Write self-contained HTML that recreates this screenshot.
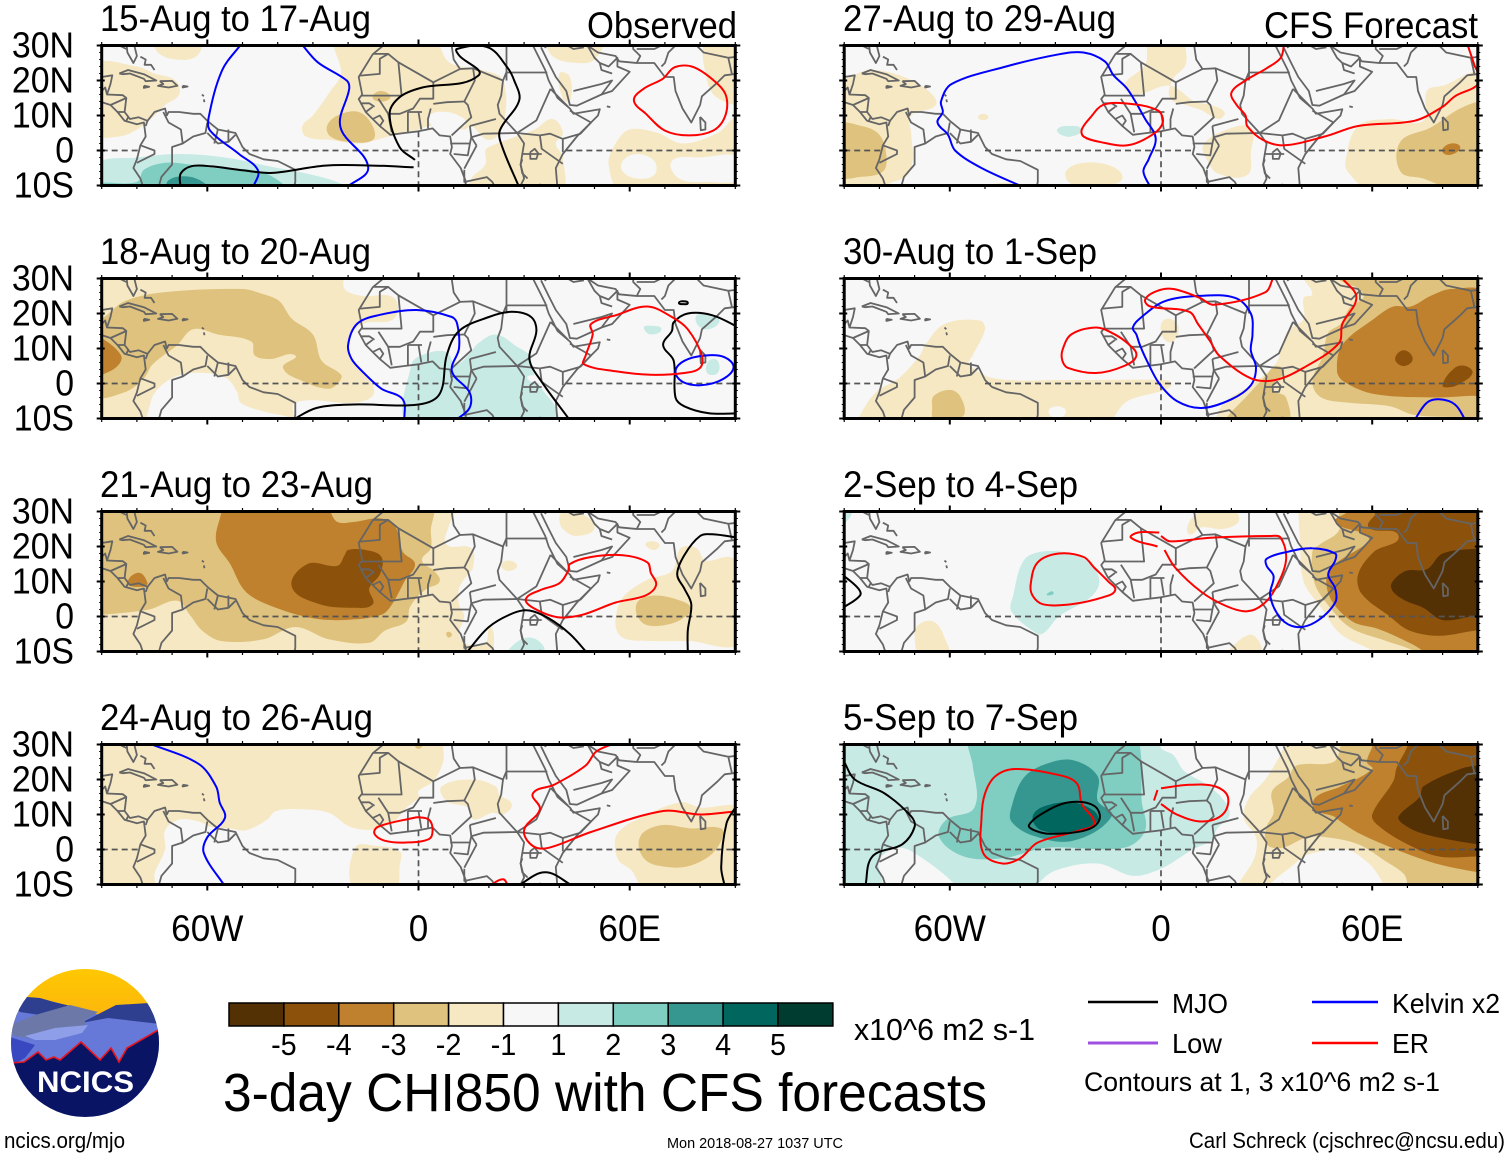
<!DOCTYPE html>
<html lang="en">
<head>
<meta charset="utf-8">
<title>3-day CHI850 with CFS forecasts</title>
<style>
html,body{margin:0;padding:0;background:#fff;}
svg{display:block;font-family:"Liberation Sans",sans-serif;}
</style>
</head>
<body>
<svg id="chart" xmlns="http://www.w3.org/2000/svg" width="1510" height="1158" viewBox="0 0 1510 1158">
  <g id="panels"></g>

  <g font-size="37" fill="#000">
    <text x="100" y="31" textLength="271" lengthAdjust="spacingAndGlyphs">15-Aug to 17-Aug</text>
    <text x="100" y="264" textLength="271" lengthAdjust="spacingAndGlyphs">18-Aug to 20-Aug</text>
    <text x="100" y="497" textLength="273" lengthAdjust="spacingAndGlyphs">21-Aug to 23-Aug</text>
    <text x="100" y="730" textLength="273" lengthAdjust="spacingAndGlyphs">24-Aug to 26-Aug</text>
    <text x="843" y="31" textLength="273" lengthAdjust="spacingAndGlyphs">27-Aug to 29-Aug</text>
    <text x="843" y="264" textLength="254" lengthAdjust="spacingAndGlyphs">30-Aug to 1-Sep</text>
    <text x="843" y="497" textLength="235" lengthAdjust="spacingAndGlyphs">2-Sep to 4-Sep</text>
    <text x="843" y="730" textLength="235" lengthAdjust="spacingAndGlyphs">5-Sep to 7-Sep</text>
    <text x="587" y="38" textLength="150" lengthAdjust="spacingAndGlyphs">Observed</text>
    <text x="1264" y="38" textLength="214" lengthAdjust="spacingAndGlyphs">CFS Forecast</text>
  </g>

  <g id="colorbar"></g>
  <text x="854" y="1040" font-size="31" textLength="181" lengthAdjust="spacingAndGlyphs">x10^6 m2 s-1</text>
  <text x="223" y="1111" font-size="54" textLength="764" lengthAdjust="spacingAndGlyphs">3-day CHI850 with CFS forecasts</text>

  <g>
    <line x1="1088" x2="1158" y1="1002" y2="1002" stroke="#000" stroke-width="2.4"/>
    <text x="1172" y="1013" font-size="28" textLength="56" lengthAdjust="spacingAndGlyphs">MJO</text>
    <line x1="1312" x2="1378" y1="1002" y2="1002" stroke="#0000ff" stroke-width="2.4"/>
    <text x="1392" y="1013" font-size="28" textLength="108" lengthAdjust="spacingAndGlyphs">Kelvin x2</text>
    <line x1="1088" x2="1158" y1="1043" y2="1043" stroke="#a050e0" stroke-width="3"/>
    <text x="1172" y="1053" font-size="28" textLength="50" lengthAdjust="spacingAndGlyphs">Low</text>
    <line x1="1312" x2="1378" y1="1043" y2="1043" stroke="#ff0000" stroke-width="2.4"/>
    <text x="1392" y="1053" font-size="28" textLength="37" lengthAdjust="spacingAndGlyphs">ER</text>
    <text x="1084" y="1091" font-size="27" textLength="356" lengthAdjust="spacingAndGlyphs">Contours at 1, 3 x10^6 m2 s-1</text>
  </g>

  <g>
    <defs>
      <clipPath id="logoClip"><circle cx="85" cy="1043" r="74"/></clipPath>
      <linearGradient id="sunGrad" x1="0" y1="0" x2="0" y2="1"><stop offset="0" stop-color="#ffc800"/><stop offset="0.6" stop-color="#fdb90c"/><stop offset="1" stop-color="#e89a10"/></linearGradient>
    </defs>
    <g clip-path="url(#logoClip)">
      <rect x="10" y="968" width="150" height="70" fill="url(#sunGrad)"/>
      <polygon points="10,1000 27,997 54,1002 100,1015 149,1003 160,1005 160,1065 10,1065" fill="#6678d8"/>
      <polygon points="10,1003 27,997 40,998 54,1002 75,1007 60,1013 40,1015 20,1012" fill="#2e3f90"/>
      <polygon points="81,1023 116,1005 149,1003 160,1005 160,1024 108,1018" fill="#2e3f90"/>
      <polygon points="10,1025 35,1015 70,1005 98,1012 85,1020 85,1030 40,1040 10,1035" fill="#6b78a8"/>
      <polygon points="25,1036 55,1028 88,1025 82,1033 55,1040 35,1040" fill="#8f9ee8"/>
      <polygon points="10,1037 35,1045 25,1058 14,1064 10,1064" fill="#3848c0"/>
      <polygon points="10,1063 24,1062 38,1052 46,1060 54,1057 60,1060 81,1042 100,1060 111,1048 119,1062 127,1048 160,1029 160,1120 10,1120" fill="#0a1464"/>
      <polyline points="10,1063 24,1062 38,1052 46,1060 54,1057 60,1060 81,1042 100,1060 111,1048 119,1062 127,1048 160,1029" fill="none" stroke="#e8141e" stroke-width="1.6"/>
    </g>
    <text x="37" y="1092" font-size="30" font-weight="bold" fill="#fff" textLength="97" lengthAdjust="spacingAndGlyphs">NCICS</text>
  </g>

  <text x="4" y="1148" font-size="22" textLength="121" lengthAdjust="spacingAndGlyphs">ncics.org/mjo</text>
  <text x="667" y="1148" font-size="15" textLength="176" lengthAdjust="spacingAndGlyphs">Mon 2018-08-27 1037 UTC</text>
  <text x="1189" y="1148" font-size="22" textLength="316" lengthAdjust="spacingAndGlyphs">Carl Schreck (cjschrec@ncsu.edu)</text>
</svg>

<script>
/* ---------- axis data ---------- */
const latTickLabels = ['30N','20N','10N','0','10S'];
const latTickValues = [30,20,10,0,-10];
const lonTickLabels = ['60W','0','60E'];
const lonTickValues = [-60,0,60];

/* ---------- colour scale ---------- */
const binKeys   = [-5.5,-4.5,-3.5,-2.5,-1.5,0,1.5,2.5,3.5,4.5,5.5];
const binColors = ['#543005','#8c510a','#bf812d','#dfc27d','#f6e8c3','#f7f7f7','#c7eae5','#80cdc1','#35978f','#01665e','#003c30'];
const colorbarLabels = ['-5','-4','-3','-2','-1','1','2','3','4','5'];

/* ---------- base map (lon, lat) ---------- */
const coastLines = [
 [[-92,18.5],[-90,21],[-87,21.5],[-87.5,19],[-88.5,16],[-84,15.8],[-83,15],[-83.5,11],[-82,9],[-79.5,9.5],[-77,8.5],[-75,11],[-72,12],[-71.5,10],[-71,11],[-68,11],[-64,10.5],[-62,10.5],[-60,8.5],[-57,6],[-52,5],[-50,1],[-48,-1],[-44,-2.5],[-40,-3],[-35,-5.5],[-35,-9],[-35.5,-11]],
 [[-92,14.5],[-87.5,13],[-85.5,11],[-83.5,8.5],[-80,7.5],[-78,8],[-77.5,4],[-79,1.5],[-80,-2.5],[-81,-5],[-79,-8],[-78,-11]],
 [[-85,22],[-82.5,23],[-78,21.8],[-74.5,20],[-77.5,19.8],[-78,20.5],[-82,22],[-84,21.8],[-85,22]],
 [[-73.5,19.8],[-70,19.9],[-68.5,18.5],[-71,18],[-74,18.5],[-72.5,19],[-73.5,19.8]],
 [[-78,18.5],[-76.5,18.2],[-78,17.9],[-78,18.5]],
 [[-67,18.5],[-65.6,18.3],[-67,18],[-67,18.5]],
 [[-79,26.8],[-77.5,26],[-77.8,24.5],[-76,24.5],[-75,23]],
 [[-61.5,16],[-61,15.5]],[[-61,14.6],[-60.8,13.8]],
 [[-83,31],[-82.7,28],[-81,25],[-80,27],[-81,31]],
 [[-92,30],[-85,30],[-83,29]],
 [[-9.5,31],[-10,30],[-13,27.5],[-17,21],[-16,16],[-17,14.7],[-15,11],[-13,9],[-11,7],[-8,4.5],[-4,5],[0,5.5],[4,6.3],[6,4.3],[9,4],[9.5,1],[9,-1],[12,-5],[13.5,-9],[13,-11]],
 [[32.5,31],[32.5,30],[34,27],[36,23],[37,20],[38,18],[39.5,15],[43,12],[44,10.5],[51.5,11.8],[51,10],[49,8],[45,4],[41,-1],[39,-5],[39.5,-11]],
 [[34.8,29.5],[37,25],[39,21],[42,17],[43,13],[45,12.8],[52,16],[55,17],[60,22.5],[56.5,24],[56.5,26.5],[54,24],[51.5,25],[50,26.5],[48,30],[51,28],[56,27],[57,25.5],[62,25],[67,25],[70,21],[72.5,21],[73,17],[75,12],[77.5,8],[80,13],[80.5,15.5],[85,19.5],[87,21.5],[91,22]],
 [[80,9.6],[81.5,8],[81.5,6],[80.2,5.8],[80,9.6]],
 [[53.5,12.6],[54.5,12.4]],
 [[31.7,-0.5],[33,0.5],[34,-0.8],[33.5,-2.4],[31.8,-2.4],[31.7,-0.5]],
 [[29.5,-2.5],[29,-4],[29.5,-6.5],[31,-8]],
 [[34.5,-9.5],[34.5,-11]]
];
const borderLines = [
 [[-16.6,21.4],[-11,21.9],[-11,26.2],[-8.6,27.6],[-13,27.6]],
 [[-8.6,27.6],[-5.7,25.2],[-4.8,15.7],[-16.1,15.7]],
 [[-5.7,25.2],[4.2,19.5],[11.8,23.3],[15.5,23.5],[24,20],[25,22.4]],
 [[9.5,31],[9.5,29.5],[10,26],[11.8,23.3]],
 [[25,31],[25,20]],
 [[25,22.3],[36.6,22.3]],
 [[15.5,23.5],[16,20],[13,14],[14,13],[15,9.5],[9.4,4.3]],
 [[24,20],[23.5,15.7],[22.5,13],[23,10.5],[28,5],[33.5,8.6],[37.5,17.6]],
 [[4.2,19.5],[4.2,14.8],[0.4,14.8],[-1.5,12],[-5.3,10.5],[-8.6,10.5],[-11.4,14.8]],
 [[-8.6,10.5],[-7.6,5.2]],
 [[4.2,13.3],[8,13.8],[13,14]],
 [[3.5,12],[2.7,9],[2.7,6.3]],[[-3,11],[-3,5]],[[0,11],[0.8,6]],[[-3,11],[1,11]],
 [[-15,11],[-13,12.5]],[[-16.5,13.5],[-14,13.5],[-12.5,12.5]],[[-13,9],[-11,10],[-10,8.5],[-11,7]],
 [[14.6,7],[22,9]],
 [[14.6,7],[15,3.8],[18.4,4.8],[28,5],[34.5,4.3]],
 [[9,2],[14.6,2],[15,3.8]],[[14.6,2],[14,-1.4],[10,-1]],
 [[16.5,1.4],[13,-5.2]],[[15,3.8],[16.5,1.4]],
 [[13,-5.5],[13,-9],[19.4,-7.6],[21,-9],[22,-11]],
 [[28,5],[30,2],[29.5,-1],[29,-4],[30,-8],[29,-10],[25,-11]],
 [[34.5,4.3],[35,0.5],[41,-3.8]],
 [[34.5,4.3],[37.4,4.8],[41,3.3],[41,-0.5]],
 [[41,3.3],[46,4.8],[49,8],[43,11.4]],
 [[37.5,17.6],[42.5,12.5]],
 [[29.5,-1],[35,-1]],
 [[39,32],[36,29.5],[39,32],[44,29],[47,29.5]],
 [[44,17],[46,17.5],[52,19],[55,20],[52,16]],
 [[55,22],[52,23],[51.5,25]],
 [[61,31],[61,29],[63,27],[62,25]],
 [[71,31],[67,29],[62,29]],
 [[74,31],[71,28],[70,25],[69,24]],
 [[78,31],[81,28],[88,26.5],[89,22]],
 [[88,26.5],[92,27]],
 [[-72.5,11],[-71,8],[-67.5,6],[-67,2],[-70,1],[-70,-4],[-73,-7.5],[-74,-11]],
 [[-79,1.5],[-75,0],[-75,-1],[-80,-3.5]],
 [[-67,2],[-64,4],[-60.5,5],[-60,8]],
 [[-60,5],[-57,2],[-54,2.5],[-52,4.5]],[[-57,6],[-58,2]],[[-54,6],[-54,2.5]],
 [[-92,17],[-90,17],[-89,18],[-88.5,16]],[[-87.5,13],[-83,15]],[[-85.5,11],[-83.5,11]],[[-83,8.5],[-82.5,9.5]],[[-77.5,7],[-77,8.5]],
 [[-70,-11],[-65,-10]]
];

/* ---------- panel 1: 15-Aug to 17-Aug ---------- */
const fills1 = [
 [-1.5,[[-92,24],[-80,24],[-75,22],[-69,20],[-68,16],[-72,13],[-76,9],[-80,6],[-85,4],[-92,5]]],
 [-1.5,[[-75,32],[-74,28],[-69,26],[-63,27],[-62,32]]],
 [-1.5,[[-23,32],[-22,22],[-25,17],[-30,10],[-33,7],[-32,4],[-25,3],[-17,2],[-12,3],[-5,5],[0,6],[3,7],[8,7],[13,6],[15,7],[20,3],[24,7],[24,20],[18,23],[9,25],[6,30],[6,32]]],
 [0,[[3,10],[8,11],[13,9],[13,7],[8,6],[4,7]]],
 [-1.5,[[19,0],[20,1],[25,3],[33,6],[38,9],[41,5],[39,2],[41,-2],[40,-12],[15,-12],[15,-8],[19,-4]]],
 [-1.5,[[37,32],[38,27],[45,25],[50,26],[52,32]]],
 [-1.5,[[40,22],[43,21],[43,14],[41,15]]],
 [-1.5,[[82,32],[82,20],[85,15],[92,14],[92,32]]],
 [-1.5,[[60,6],[68,5],[75,2],[85,5],[92,10],[92,-12],[58,-12],[54,-4],[56,2]]],
 [0,[[58,-3],[62,-1],[67,-3],[67,-7],[62,-8],[58,-6]]],
 [0,[[72,-3],[80,-2],[92,-2],[92,-8],[82,-9],[74,-8]]],
 [-2.5,[[-26,7],[-23,10],[-17,11],[-13,7],[-13,3],[-20,2.5],[-25,4]]],
 [-2.5,[[-13,15],[-11,17],[-8,15.5],[-10,14]]],
 [1.5,[[-92,-4],[-80,-2],[-68,-1],[-55,-2],[-40,-5],[-30,-7],[-21,-10],[-21,-12],[-92,-12]]],
 [2.5,[[-92,-9.5],[-80,-9],[-78,-5.5],[-72,-3.5],[-65,-4],[-58,-5],[-45,-6],[-38,-10],[-38,-12],[-92,-12]]],
 [3.5,[[-71,-12],[-71,-8.5],[-65,-7.5],[-60,-10],[-60,-12]]]
];
const lines1 = [
 ['kelvin',0,[[-50.3,30.5],[-55.8,22.9],[-59.6,9.5],[-59.2,5.7],[-51,-1],[-45.6,-5.7],[-47,-10.5]]],
 ['kelvin',0,[[-33.3,30.5],[-28.6,25.2],[-20.4,20],[-19.7,17.6],[-22.2,6.7],[-14.3,-4.8],[-20.4,-10.5]]],
 ['mjo',0,[[-67.6,-10.5],[-67.6,-6.7],[-64.6,-4.5],[-59.2,-4.5],[-49.7,-5.7],[-41.5,-6.4],[-26.5,-4.3],[-12.9,-4.3],[-1.4,-4.8]]],
 ['mjo',0,[[-1,-2.7],[-5.4,1],[-8.2,10.5],[-5.4,15.2],[0.7,17.9],[17,21.4],[11.6,27.1],[10.9,29],[19.7,29.5],[25.2,23.8],[27.2,20],[28.6,14.3],[23.1,5.7],[23.8,1],[28.6,-10.5]]],
 ['er',1,[[72.8,23.8],[78.2,23.8],[85,19],[87.5,15.2],[87,9.5],[83.7,5.7],[76.9,4.3],[70,5.7],[64.6,10.5],[61.2,14.3],[63.9,17.6],[69.4,20.5]]]
];

/* ---------- panel 2: 18-Aug to 20-Aug ---------- */
const fills2 = [
 [-1.5,[[-92,32],[-22,32],[-21,27],[-16,25],[-7,24.5],[-7,18.5],[-16,17],[-20,12],[-18.5,6.5],[-13.5,0.5],[-13,-3.5],[-18.5,-5.5],[-35,-5.5],[-36,-12],[-92,-12]]],
 [0,[[-76,-12],[-76,-5],[-73,-0.5],[-67.5,2.5],[-60.5,3],[-54.5,1.5],[-51.5,-2.5],[-50.5,-5.5],[-44,-8],[-36,-10],[-36,-12]]],
 [-2.5,[[-92,18.5],[-90,18.5],[-83.5,23.5],[-73,26],[-50,27],[-44,25.5],[-39.5,23.5],[-36,18.5],[-30,14],[-27.5,6.5],[-22,2.5],[-22.5,0.5],[-25.5,-1.5],[-32.5,0.5],[-38.5,4.5],[-35,8],[-42,7],[-46.5,8],[-47.5,12],[-57,14],[-64,15.5],[-68.5,11],[-75.5,5.5],[-78,1.5],[-83.5,-2.5],[-92,-3]]],
 [-3.5,[[-92,13],[-90,13],[-84.5,8],[-85.5,5],[-90,2.5],[-92,2.5]]],
 [1.5,[[-2,-12],[-2,5.5],[2,8.5],[8,9],[10.5,5.5],[14,8],[17,11.5],[22,14],[28,10.5],[31.5,8],[32.5,3.5],[35,-1.5],[38.5,-6],[40,-10],[40,-12]]],
 [0,[[31,2],[34,2],[35,0.5],[32,0.5]]],
 [1.5,[[64,16],[66,16.5],[69,15.5],[66,14]]],
 [1.5,[[79,19.5],[82.5,19.5],[85.5,18],[82.5,15.5],[79.5,16.5]]],
 [1.5,[[82.5,6.5],[85,6.5],[85,3],[82,3]]]
];
const lines2 = [
 ['kelvin',0,[[-4,-10.5],[-4.5,-4.5],[-10.5,-1.5],[-16,3.5],[-19,7],[-20,11],[-17.5,17],[-11.5,19.5],[-0.5,21],[9.5,19],[11,17],[11.5,10],[9.5,3.5],[14.5,-2.5],[14.5,-7],[10.5,-10.5]]],
 ['mjo',0,[[-36,-10.5],[-29,-7],[-18.5,-6],[0,-6],[6,-3],[8,8],[11.5,15],[20,19],[26.5,20.5],[32,19],[33.5,15],[31.5,7],[35,0.5],[43,-10.5]]],
 ['mjo',0,[[91,16],[83.5,19.5],[76.5,20],[72.5,17.5],[72,15],[69.5,11],[72.5,6.5],[73,-4],[75.5,-6.5],[82.5,-8.5],[91,-8.5]]],
 ['mjo',1,[[74,23],[75,23.5],[76.5,23],[75,22.7]]],
 ['kelvin',1,[[73,3.5],[75.5,6.5],[81.5,8],[87,7.5],[89.5,4.5],[86,1],[80,-0.5],[75,0.5]]],
 ['er',1,[[49,17],[56,19.5],[65,22],[72,19],[76.5,15.5],[80.5,8],[80,4.5],[75.5,3],[66,2.5],[56,3.5],[47,5.5],[47.5,8],[49.5,14]]]
];

/* ---------- panel 3: 21-Aug to 23-Aug ---------- */
const fills3 = [
 [-1.5,[[-92,32],[10.5,32],[10.5,30],[8.5,25.5],[8,20.5],[15,19.5],[15.5,14],[14,12],[11.5,8],[11.5,3.5],[13,0],[11.5,-5],[14,-8],[19,-7.5],[20.5,-3],[21.5,-10],[22,-12],[-92,-12]]],
 [-1.5,[[40,28],[41,30],[45,30],[50,25.5],[45,23],[41,25]]],
 [-1.5,[[64.5,20.5],[66,21.5],[68.5,20.5],[67,19]]],
 [-1.5,[[56.5,-4.5],[56,-0.5],[58,5.5],[65,10.5],[72,13],[74.5,19.5],[79,19.5],[81.5,16],[88.5,17],[92,14],[92,-7],[76.5,-7],[66,-7],[59,-6.5]]],
 [-1.5,[[23.5,14.5],[25.5,16],[28,14.5],[25.5,13]]],
 [-2.5,[[-92,32],[3.5,32],[3.5,24.5],[3.5,19.5],[1,16],[4.5,13],[6,10],[2.5,8],[0,6],[-2.5,2.5],[-3.5,-1.5],[-9.5,-4],[-14,-7.5],[-25.5,-6.5],[-35,-3],[-44,-6.5],[-56,-7],[-61.5,-4],[-65,0.5],[-68.5,4.5],[-76.5,2],[-90,0.5],[-92,0.5]]],
 [-3.5,[[-56,32],[-56,30],[-57.5,21.5],[-53.5,15],[-49,7],[-40.5,2.5],[-30,-0.5],[-21,-1],[-10.5,0.5],[-7.5,3.5],[-4,10],[-1,15],[-4.5,18.5],[-6.5,25.5],[-10.5,28],[-18.5,27],[-23,27],[-25,30],[-25,32]]],
 [-3.5,[[-82.5,9.5],[-79.5,12.5],[-77,9.5],[-78.5,8.5]]],
 [-4.5,[[-20,19],[-15,19],[-10.5,17],[-11,12],[-14,8],[-13,3.5],[-18.5,2.5],[-28,3.5],[-36,8.5],[-31.5,15],[-23,14.5],[-21,17.5]]],
 [-2.5,[[62,0.5],[62.5,4.5],[67.5,6],[74.5,4.5],[77.5,2.5],[76.5,0.5],[72,-2],[65,-2.5]]],
 [-2.5,[[8,-4.5],[9.5,-5],[8.5,-6]]],
 [1.5,[[25.5,-12],[26.5,-8.5],[31.5,-6],[35.5,-8.5],[35,-12]]]
];
const lines3 = [
 ['er',1,[[43,15],[49,17],[58,17.5],[65,15.5],[66,12.5],[67.5,9],[64.5,6],[56,4],[46.5,0.5],[39.5,-0.2],[32.5,2.5],[30.5,5],[34.5,7.5],[40,9.5],[42.5,13]]],
 ['mjo',0,[[13.5,-10.5],[20,-3],[27,1],[31.5,1.7],[37,-0.5],[43,-5],[48,-10.5]]],
 ['mjo',0,[[91,22.5],[83.5,23.5],[80,23],[75.5,17.5],[73.5,12],[75.5,8],[77.5,3.5],[76.5,-4],[76.5,-10.5]]]
];

/* ---------- panel 4: 24-Aug to 26-Aug ---------- */
const fills4 = [
 [-1.5,[[-92,32],[7,32],[7,29.5],[7,25],[4.2,19.5],[0,16.7],[0,14.8],[-3.4,12],[-7,8],[-12.8,5.7],[-19.5,6.5],[-25.5,10.5],[-33.5,11.5],[-40.5,11],[-43,8.5],[-49,5.5],[-53.5,6],[-59,6.5],[-62.5,8],[-68,8.5],[-72,5.5],[-72,0],[-75,-7],[-75,-12],[-92,-12]]],
 [-2.5,[[-1,30],[1,30],[0,28.7]]],
 [-1.5,[[6.6,18],[15.6,20],[22,18],[23,15.7],[26.5,12.9],[24,10],[21,10.5],[15.6,8.6],[14,12],[8,13.8]]],
 [-1.5,[[-18,0.5],[-12,1],[-5.3,-0.5],[-5.3,-4.3],[-7,-12],[-18,-12]]],
 [-1.5,[[56.5,-2.5],[56.5,4.5],[64,9.5],[74.5,13.5],[80,12],[92,11],[92,-12],[65,-12],[60.5,-6]]],
 [-2.5,[[62.5,1.5],[64,5],[69.5,7],[77.5,6],[86,6],[86,2.5],[82.5,-2],[75.5,-5],[67.5,-4.5],[64,-2.5]]]
];
const lines4 = [
 ['kelvin',0,[[-77,30.5],[-62.5,24.5],[-57.5,18],[-56.5,13.5],[-55,9],[-60,3.5],[-61,-1],[-55,-10.5]]],
 ['er',1,[[-1.5,9],[-11.5,6.5],[-12.5,4.5],[-9.5,2.5],[-3.5,2],[3,3],[4,5.5],[3,8.5],[0,9.2]]],
 ['er',0,[[56,30.5],[50.5,28],[47.5,24],[38.5,18.5],[32.5,16],[34.5,11.5],[30,5.5],[32.5,1],[37,0.5],[49,5],[69.5,11],[80,10],[91,11]]],
 ['er',0,[[20,-10.5],[24,-8.5],[25.5,-10.5]]],
 ['er',0,[[61.5,30.2],[68,30.2]]],
 ['mjo',0,[[28,-10.5],[36,-6.5],[44,-10.5]]],
 ['mjo',0,[[90,12],[87.5,7.5],[86,-5],[87,-10.5]]]
];

/* ---------- panel 5: 27-Aug to 29-Aug ---------- */
const fills5 = [
 [-1.5,[[-92,20.5],[-90,20.5],[-82.5,23],[-73,21],[-66,17],[-64,13],[-71,10],[-71,5],[-70.5,-2],[-72,-7],[-78,-10],[-78,-12],[-92,-12]]],
 [-1.5,[[-4,32],[-4,30],[-4.5,24.5],[-10.5,18.5],[-7,16],[2.5,18.5],[9.5,14],[14,13],[18,11],[16.5,9],[11.5,11.5],[7,13],[2.5,15],[3.5,20.5],[7,24.5],[7,30],[7,32]]],
 [-1.5,[[12,1.5],[17.5,5.5],[25.5,6.5],[25.5,-0.5],[24.5,-7],[16,-6.5],[13,-2.5]]],
 [-1.5,[[-27,-6],[-22,-3.5],[-14,-4.5],[-11,-8],[-16,-10],[-25.5,-9.5]]],
 [-1.5,[[-52,9.5],[-50.5,10.5],[-49,9.5],[-50.5,8.7]]],
 [-1.5,[[-51,-12],[-47,-9.5],[-39,-10],[-39,-12]]],
 [-1.5,[[52.5,-2.5],[56,7],[65,9],[74.5,8.5],[75.5,17],[80,18.5],[92,21.5],[92,-12],[60.5,-12],[53,-6]]],
 [-2.5,[[-92,7],[-85,7],[-80,4.5],[-78,-1.5],[-79,-6],[-85,-7.5],[-92,-7]]],
 [-2.5,[[68,-6],[68,2.5],[76.5,6.5],[86,12.5],[92,13],[92,-12],[85,-12],[74.5,-8]]],
 [-3.5,[[80,0.5],[82.5,2],[85,1],[83,-1],[80.5,-1]]],
 [1.5,[[-29.5,6],[-27,7],[-22.5,6],[-25.5,4],[-28.5,4.5]]]
];
const lines5 = [
 ['kelvin',0,[[-39,-10.5],[-51,-5],[-58.5,0],[-60.5,4.5],[-63.5,8],[-62,11],[-62.5,14],[-59.5,19],[-44,24],[-29,27.5],[-22,28],[-16,25.5],[-13.5,21.5],[-9.5,17.5],[-4.5,9],[-1.5,3.5],[-3.5,-2.5],[-5,-6],[-3,-10.5]]],
 ['er',1,[[-22.5,6],[-20,9.5],[-16.5,13],[-10.5,13.5],[-1,11.5],[0.5,8],[-2.5,4.5],[-9.5,1.5],[-17.5,2.5],[-22,4]]],
 ['er',0,[[35,30.5],[34,26.5],[30,23.5],[24,20],[20,16.5],[21.5,13],[24,10],[24.5,7],[29,3],[35,1.5],[46.5,4],[56,7],[72,8.5],[80,12.5],[83.5,15.5],[90.5,19.5],[89,24.5],[87,30.5]]]
];

/* ---------- panel 6: 30-Aug to 1-Sep ---------- */
const fills6 = [
 [-1.5,[[-86,-12],[-86,-10],[-81,-2.5],[-74.5,1.5],[-68.5,8],[-67,11],[-61.5,17],[-51.5,18],[-50,15.5],[-53.5,8],[-54.5,5.5],[-47.5,1.5],[-28,1],[0,1],[3,0],[0.5,-2],[-9.5,-5],[-13.5,-10],[-13.5,-12]]],
 [0,[[-32,-8],[-29.5,-6.5],[-27,-8],[-29.5,-10]]],
 [-2.5,[[-65,-7],[-64.5,-3.5],[-59,-2],[-56,-6],[-56.5,-9.5],[-64.5,-10]]],
 [-1.5,[[0,17],[2.5,18.5],[5,16],[3.5,12],[1,12.5]]],
 [-1.5,[[16.5,-12],[17.5,-6],[25.5,-0.5],[32.5,5.5],[34.5,11],[36,15],[40.5,18.5],[40.5,24.5],[43,25.5],[40.5,30],[40.5,32],[92,32],[92,-12]]],
 [-2.5,[[18.5,-12],[18.5,-10],[24,-4],[30,2.5],[32.5,5],[35,3.5],[31.5,-1.5],[35.5,-4],[35.5,-12]]],
 [-2.5,[[50,32],[50,30],[57.5,25.5],[53.5,21.5],[51,17],[47.5,14.5],[46,8],[43,0.5],[45.5,-4],[53.5,-5.5],[65,-6.5],[72,-9],[88.5,-10],[92,-12],[92,32]]],
 [-3.5,[[50,3.5],[51.5,11],[60.5,18.5],[66,22],[71,22],[76.5,25],[82.5,27],[92,25.5],[92,-3.5],[88.5,-3.5],[78,-4],[60.5,-3],[52,0.5]]],
 [-4.5,[[66.5,7],[69,9.5],[71.5,7],[69,5]]],
 [-4.5,[[80,-0.5],[83.5,4.5],[86.5,5],[88.5,3],[85,0],[82.5,-1]]]
];
const lines6 = [
 ['kelvin',1,[[-8,16],[-5.5,19],[1,23.5],[10.5,25],[21,24.5],[25.5,20],[26,14],[25.5,9.5],[27,4.5],[25.5,-0.5],[20,-4.5],[11.5,-7],[4.5,-5],[-0.5,0],[-4,6.5],[-6,11],[-7,14]]],
 ['kelvin',0,[[72,-10.5],[75.5,-5.5],[79,-4.5],[83.5,-6],[86.5,-10.5]]],
 ['er',1,[[-28,9.5],[-25.5,14],[-18.5,16],[-14,14.5],[-9.5,11.5],[-7,8],[-10.5,5],[-18.5,3],[-26.5,4.5],[-28,6.5]]],
 ['er',0,[[32,30.5],[29.5,26],[15,22.5],[11,24.5],[3.5,27],[-1,26.5],[-4.5,24],[-3,22],[8,20.5],[10.5,17],[14,12],[16.5,8],[25.5,1.5],[32.5,1],[40.5,4.5],[50.5,11.5],[51.5,17],[55.5,24.5],[52,29.5],[50.5,30.5]]]
];

/* ---------- panel 7: 2-Sep to 4-Sep ---------- */
const fills7 = [
 [1.5,[[-35,-5],[-42.5,1.5],[-42,6],[-39,16],[-34,18.5],[-25.5,18],[-20,15],[-17.5,10],[-20,5.5],[-29,0],[-33,-4.5]]],
 [2.5,[[-32.5,6.3],[-31,7.2],[-30.5,6.5],[-32,6]]],
 [1.5,[[-92,32],[-88,30],[-89.5,27],[-92,26]]],
 [-1.5,[[-70,-5],[-68.5,-2],[-64.5,-1.5],[-61.5,-6],[-60.5,-12],[-68,-12]]],
 [-1.5,[[8,23.5],[8,27],[11.5,30],[21,30],[22,27],[17.5,25],[11.5,25.5]]],
 [-1.5,[[19,-12],[22,-7],[26.5,-5.5],[28,-12]]],
 [-1.5,[[39,32],[39,30],[39.5,21.5],[40.5,10],[45.5,2.5],[51,-5],[60.5,-10],[62,-12],[92,-12],[92,32]]],
 [-2.5,[[43,18.5],[45,20.5],[50.5,24.5],[50.5,30],[50.5,32],[92,32],[92,-12],[72,-12],[72,-10],[64,-7],[53.5,-3],[46.5,4.5],[43.5,10]]],
 [-3.5,[[53,32],[53,30],[49.5,27],[58,23.5],[59,21.5],[49.5,15],[47,11],[48.5,4.5],[54.5,-1.5],[61.5,-3.5],[69.5,-7],[74.5,-10],[75,-12],[92,-12],[92,32]]],
 [-4.5,[[61.5,32],[61.5,30],[59,25.5],[67.5,23],[60.5,18.5],[56,12],[57,6.5],[65,0],[70.5,-4],[79,-5.5],[89.5,-4],[92,-4],[92,32]]],
 [-5.5,[[65.5,9.5],[69.5,13],[75.5,13.5],[80,18],[90.5,19.5],[92,19.5],[92,0],[88.5,0],[80,-1],[74.5,2.5],[69.5,4.5],[66,7]]]
];
const lines7 = [
 ['er',1,[[-37,9.5],[-35,15.5],[-29,18],[-22,17],[-19,14],[-15,10],[-13,7.5],[-16.5,5.5],[-25.5,3.5],[-33.5,3.5],[-36.5,6]]],
 ['er',0,[[-0.5,24],[-6.5,24],[-8.5,22.5],[-1,20]]],
 ['er',0,[[1,19],[4,14],[11.5,7],[18.5,3],[24.5,1.5],[29,3.5],[32.5,8],[35.5,16],[34,22.5],[31,23],[14,22.5],[2.5,21.5],[0,23]]],
 ['kelvin',1,[[30,16.5],[36,18.5],[43,19.5],[49.5,18],[49.5,16],[47.5,12],[49.5,8],[49.5,4],[44,-1.5],[38.5,-3],[34,-0.5],[31,6],[32,11.5],[30,14.5]]],
 ['mjo',0,[[-92,12.5],[-90,11.5],[-86,8],[-85.5,6],[-90,2.7],[-92,1.5]]]
];

/* ---------- panel 8: 5-Sep to 7-Sep ---------- */
const fills8 = [
 [1.5,[[-92,32],[0,32],[0,29],[3.5,27],[6.5,22.5],[13,18.5],[17.5,14.5],[19.5,10],[16,6],[14,2.5],[9,0],[0,-5.5],[-8,-7.5],[-18,-4],[-30,-6],[-35,-10],[-35,-12],[-58.5,-12],[-58.5,-10],[-68.5,-2],[-74.5,0.5],[-80,-3],[-79,-10],[-79,-12],[-92,-12]]],
 [2.5,[[-55,32],[-55,30],[-53.5,24],[-53,12],[-61,8.5],[-63,3.5],[-56,-2],[-45,-2.5],[-32.5,0.5],[-10.5,0.5],[-4.5,5.5],[-5.5,14],[-5.5,24.5],[-6,30],[-6,32]]],
 [3.5,[[-32.5,24.5],[-25,25.5],[-18,21],[-18,14],[-14,9.5],[-25,2.5],[-36.5,4],[-42.5,8],[-42.5,12],[-39,20.5]]],
 [4.5,[[-36.5,9],[-34,12],[-25.5,13.5],[-19,11],[-18,8],[-25.5,5],[-34,5.5]]],
 [-1.5,[[22,-12],[22,-10],[26.5,-2.5],[27,3.5],[23.5,9],[25,14.7],[30,20.5],[35,29.5],[35,32],[92,32],[92,-12]]],
 [0,[[31,-12],[31,-10],[37.5,-4.5],[41.5,-1.5],[52.5,0],[58.5,-3.5],[61.5,-7],[63,-10],[63,-12]]],
 [-2.5,[[30,1.5],[30,6.5],[32,10.5],[31.5,16.5],[36,20.5],[38.5,24],[49,25],[51,29.5],[51,32],[92,32],[92,-12],[70,-12],[70,-10],[69,-7],[64,-3.5],[56,1.5],[47,3.5],[41.5,3.5],[34.5,0.5]]],
 [-3.5,[[60,32],[60,29.5],[58.5,25],[60,23],[51,18],[44,15],[43.5,11.5],[49,9.5],[51,8],[56.5,4.5],[68,-0.5],[78,-4],[90,-6.5],[92,-6.5],[92,32]]],
 [-4.5,[[70,32],[70,29.5],[67,23.5],[66,19.5],[60,10],[61.5,7],[70,1.5],[79,-2],[90,-2],[92,-2],[92,32]]],
 [-5.5,[[67.5,9.5],[73.5,15],[74.5,18],[85,23],[90,24],[92,24],[92,1.5],[90,1.5],[81,3],[73,5],[68.5,7.5]]]
];
const lines8 = [
 ['er',1,[[-51,9],[-50,16],[-47,21],[-41.5,23],[-30,21.5],[-24,19],[-22.5,13],[-19,7.5],[-23,5.5],[-35,2],[-40,-2.5],[-45,-4],[-50.5,-1]]],
 ['er',0,[[-2,14],[-1,17]]],
 ['er',0,[[0,17.5],[8,18.5],[15.5,18],[19,15],[17.5,10],[11.5,8],[4.5,10],[0,13]]],
 ['mjo',1,[[-37.5,7],[-32.5,11],[-26,13.5],[-19,12.5],[-17.5,8.5],[-21.5,5.5],[-31.5,4.5],[-36,5.5]]],
 ['mjo',0,[[-90,25],[-87,20],[-78.5,16],[-71,9.5],[-70,6.5],[-73.5,1.5],[-82,-2],[-84,-10.5]]]
];

const panelFills = [fills1,fills2,fills3,fills4,fills5,fills6,fills7,fills8];
const panelLines = [lines1,lines2,lines3,lines4,lines5,lines6,lines7,lines8];
const waveNames  = ['mjo','kelvin','er','low'];
const waveColors = ['#000000','#0000ff','#ff0000','#a050e0'];

/* ---------- axis functions ---------- */
const NS = 'http://www.w3.org/2000/svg';
const PXLON = 3.52, PXLAT = 3.5;
function zeroX(col){ return col === 0 ? 418.5 : 1161; }
function xAxis(col, lon){ return zeroX(col) + lon * PXLON; }
function yAxis(row, lat){ return 150.5 + row * 233 - lat * PXLAT; }

function make(tag, attrs, parent){
  const el = document.createElementNS(NS, tag);
  for (const k in attrs) el.setAttribute(k, attrs[k]);
  parent.appendChild(el);
  return el;
}
function condense(el, factor){
  el.setAttribute('textLength', (el.getComputedTextLength() * factor).toFixed(1));
  el.setAttribute('lengthAdjust', 'spacingAndGlyphs');
}
function smoothPath(pts, closed){
  const n = pts.length;
  const at = i => closed ? pts[(i + n) % n] : pts[Math.max(0, Math.min(n - 1, i))];
  const tangent = i => {
    const a = at(i - 1), b = at(i + 1);
    const dx = b[0] - a[0], dy = b[1] - a[1];
    const len = Math.hypot(dx, dy) || 1;
    return [dx / len, dy / len];
  };
  let d = 'M' + pts[0][0].toFixed(1) + ' ' + pts[0][1].toFixed(1);
  const segs = closed ? n : n - 1;
  for (let i = 0; i < segs; i++){
    const p = at(i), q = at(i + 1);
    const seg = Math.hypot(q[0] - p[0], q[1] - p[1]) / 3;
    const t1 = tangent(i), t2 = tangent(i + 1);
    d += 'C' + (p[0] + t1[0] * seg).toFixed(1) + ' ' + (p[1] + t1[1] * seg).toFixed(1) + ' ' +
         (q[0] - t2[0] * seg).toFixed(1) + ' ' + (q[1] - t2[1] * seg).toFixed(1) + ' ' +
         q[0].toFixed(1) + ' ' + q[1].toFixed(1);
  }
  return d + (closed ? 'Z' : '');
}

/* ---------- draw panels ---------- */
const panelRoot = document.getElementById('panels');
const defs = make('defs', {}, panelRoot);
panelFills.forEach(function(fills, idx){
  const col = idx < 4 ? 0 : 1;
  const row = idx % 4;
  const fx = lon => xAxis(col, lon);
  const fy = lat => yAxis(row, lat);
  const toPx = pts => pts.map(p => [fx(p[0]), fy(p[1])]);
  const left = fx(-90), right = fx(90), top = fy(30), bottom = fy(-10);

  const clip = make('clipPath', {id: 'clip' + idx}, defs);
  make('rect', {x: left, y: top, width: right - left, height: bottom - top}, clip);

  const g = make('g', {}, panelRoot);
  
  
  const inner = make('g', {'clip-path': 'url(#clip' + idx + ')'}, g);

  const bg = make('rect', {x: left, y: top, width: right - left, height: bottom - top, fill: '#f7f7f7'}, inner);
  
  

  fills.forEach(function(f){
    const color = binColors[binKeys.indexOf(f[0])];
    const shape = make('path', {d: smoothPath(toPx(f[1]), true), fill: color, stroke: 'none'}, inner);
    
    
  });

  coastLines.forEach(function(seg){
    const d = 'M' + toPx(seg).map(p => p[0].toFixed(1) + ' ' + p[1].toFixed(1)).join('L');
    const coast = make('path', {d: d, fill: 'none', stroke: '#656565', 'stroke-width': 1.8, 'stroke-linejoin': 'round'}, inner);
    
    
  });
  borderLines.forEach(function(seg){
    const d = 'M' + toPx(seg).map(p => p[0].toFixed(1) + ' ' + p[1].toFixed(1)).join('L');
    const border = make('path', {d: d, fill: 'none', stroke: '#656565', 'stroke-width': 1.8, 'stroke-linejoin': 'round'}, inner);
    
    
  });

  [[-90,-79],[-50,9],[42,90]].forEach(function(r){
    const eq = make('line', {x1: fx(r[0]), x2: fx(r[1]), y1: fy(0), y2: fy(0), stroke: '#555', 'stroke-width': 1.7, 'stroke-dasharray': '6 4'}, inner);
    
    
  });
  const mer = make('line', {x1: fx(0), x2: fx(0), y1: fy(5.5), y2: fy(-10), stroke: '#555', 'stroke-width': 1.7, 'stroke-dasharray': '6 4'}, inner);
  
  

  panelLines[idx].forEach(function(l){
    const color = waveColors[waveNames.indexOf(l[0])];
    const contour = make('path', {d: smoothPath(toPx(l[2]), !!l[1]), fill: 'none', stroke: color, 'stroke-width': 2, 'stroke-linejoin': 'round'}, inner);
    
    
  });

  const frame = make('rect', {x: left, y: top, width: right - left, height: bottom - top, fill: 'none', stroke: '#000', 'stroke-width': 3}, g);
  
  

  const ticks = make('g', {stroke: '#000', 'stroke-width': 1.2}, g);
  
  
  for (let lon = -90; lon <= 90; lon += 10){
    const major = lon % 60 === 0;
    const len = major ? 6 : 3.5;
    make('line', {x1: fx(lon), x2: fx(lon), y1: top - len, y2: top, 'stroke-width': major ? 2 : 1.2}, ticks);
    make('line', {x1: fx(lon), x2: fx(lon), y1: bottom, y2: bottom + len, 'stroke-width': major ? 2 : 1.2}, ticks);
  }
  for (let lat = -10; lat <= 30; lat += 2){
    const major = lat % 10 === 0;
    const len = major ? 5 : 2.5;
    make('line', {x1: left - len, x2: left + (major ? 3 : 0), y1: fy(lat), y2: fy(lat), 'stroke-width': major ? 2 : 1}, ticks);
    make('line', {x1: right - (major ? 3 : 0), x2: right + len, y1: fy(lat), y2: fy(lat), 'stroke-width': major ? 2 : 1}, ticks);
  }

  if (col === 0){
    latTickLabels.forEach(function(lab, i){
      const t = make('text', {x: 74, y: fy(latTickValues[i]) + 12, 'font-size': 36, 'text-anchor': 'end', fill: '#000'}, g);
      
      
      t.textContent = lab;
      condense(t, 0.94);
    });
  }
  if (row === 3){
    lonTickLabels.forEach(function(lab, i){
      const t = make('text', {x: fx(lonTickValues[i]), y: 941, 'font-size': 37, 'text-anchor': 'middle', fill: '#000'}, g);
      
      
      t.textContent = lab;
      condense(t, 0.95);
    });
  }
});

/* ---------- colour bar ---------- */
const cb = document.getElementById('colorbar');
const cbLeft = 229, cbTop = 1003, cbCell = 54.9, cbH = 23;
binColors.forEach(function(color, i){
  const r = make('rect', {x: cbLeft + i * cbCell, y: cbTop, width: cbCell, height: cbH, fill: color, stroke: '#000', 'stroke-width': 1.5}, cb);
  
  
});
colorbarLabels.forEach(function(lab, i){
  const t = make('text', {x: cbLeft + (i + 1) * cbCell, y: 1055, 'font-size': 31, 'text-anchor': 'middle', fill: '#000'}, cb);
  
  
  t.textContent = lab;
  condense(t, 0.93);
});
</script>
</body>
</html>
